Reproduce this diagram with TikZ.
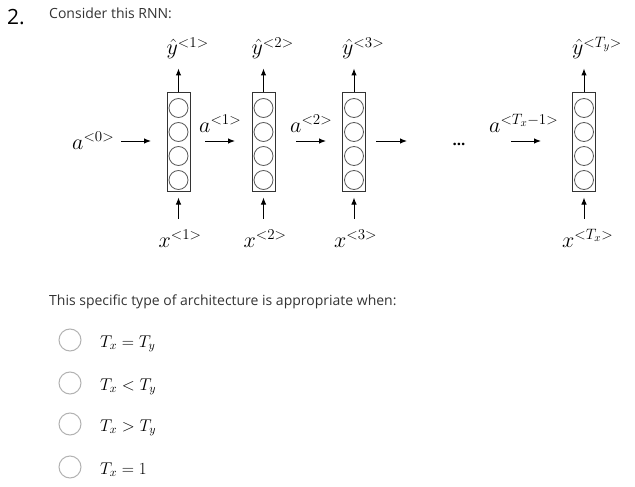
\documentclass[tikz,border=0pt]{standalone}
\usepackage{fix-cm}
\usepackage[no-math]{fontspec}
\setmainfont{Open Sans}
\usetikzlibrary{arrows.meta}
\DeclareMathSizes{22}{22}{15}{11}

\tikzstyle{cell} = [draw=black!80, line width=1pt, minimum width=23pt, minimum height=98pt, inner sep=0pt]
\tikzstyle{unit} = [draw=black!65, line width=0.8pt]
\tikzstyle{line} = [draw, line width=1pt, -{Latex[length=7pt,width=5.5pt]}]
\tikzstyle{lbl} = [inner sep=0pt, anchor=base west, font=\fontsize{22}{26}\selectfont]
\tikzstyle{txt} = [inner sep=0pt, anchor=base west, font=\fontsize{14}{17}\selectfont, text=black!80]
\tikzstyle{radio} = [circle, draw=black!30, line width=1pt, minimum size=22pt, inner sep=0pt, fill=white]
\tikzstyle{opt} = [inner sep=0pt, anchor=base west, font=\fontsize{17}{20}\selectfont]

\begin{document}
\begin{tikzpicture}[x=1pt, y=-1pt]
	\useasboundingbox (0,0) rectangle (635,487);
	
	\node[txt, font=\fontsize{21}{24}\selectfont, text=black] (num) at (7,25) {2.};
	\node[txt] (intro) at (49,19) {Consider this RNN:};
	
	% cells with their four units
	\foreach \n/\x in {1/178.5, 2/263.5, 3/354, 4/584} {
		\node[cell] (c\n) at (\x,142) {};
		\foreach \dy in {-34,-10,14,38} \draw[unit] (\x,142+\dy) circle (9.5pt);
		\draw[line] (c\n.north) -- ([yshift=24pt]c\n.north); % output
		\draw[line] ([yshift=-27pt]c\n.south) -- ([yshift=-6pt]c\n.south); % input
	}
	
	% outputs and inputs
	\node[lbl] (y1) at (166.5,55) {$\hat{y}^{<1>}$};
	\node[lbl] (y2) at (251.5,55) {$\hat{y}^{<2>}$};
	\node[lbl] (y3) at (342,55) {$\hat{y}^{<3>}$};
	\node[lbl] (y4) at (572,55) {$\hat{y}^{<T_y>}$};
	\node[lbl] (x1) at (158.5,247) {$x^{<1>}$};
	\node[lbl] (x2) at (243.5,247) {$x^{<2>}$};
	\node[lbl] (x3) at (334,247) {$x^{<3>}$};
	\node[lbl] (x4) at (562,247) {$x^{<T_x>}$};
	
	% activations
	\node[lbl] (a0) at (72,149) {$a^{<0>}$};
	\node[lbl] (a1) at (199,132) {$a^{<1>}$};
	\node[lbl] (a2) at (290,132) {$a^{<2>}$};
	\node[lbl] (a4) at (489,132) {$a^{<T_x-1>}$};
	\node[lbl, anchor=base, font=\fontsize{15}{18}\selectfont\bfseries] (dots) at (459,145) {...};
	
	\foreach \i/\xs/\xe in {0/121/151, 1/205/235, 2/296/326, 3/376/407, 4/511/541} {
		\coordinate (h\i s) at (\xs,141);
		\coordinate (h\i e) at (\xe,141);
		\draw[line] (h\i s) -- (h\i e);
	}
	
	% question
	\node[txt] (q) at (49,305) {This specific type of architecture is appropriate when:};
	
	\foreach \i/\y/\t in {1/340/{T_x = T_y}, 2/383/{T_x < T_y}, 3/424/{T_x > T_y}, 4/467/{T_x = 1}} {
		\node[radio] (r\i) at (70,\y) {};
		\node[opt] (o\i) at (100,\y+7) {$\t$};
	}
	
\end{tikzpicture}
\end{document}
